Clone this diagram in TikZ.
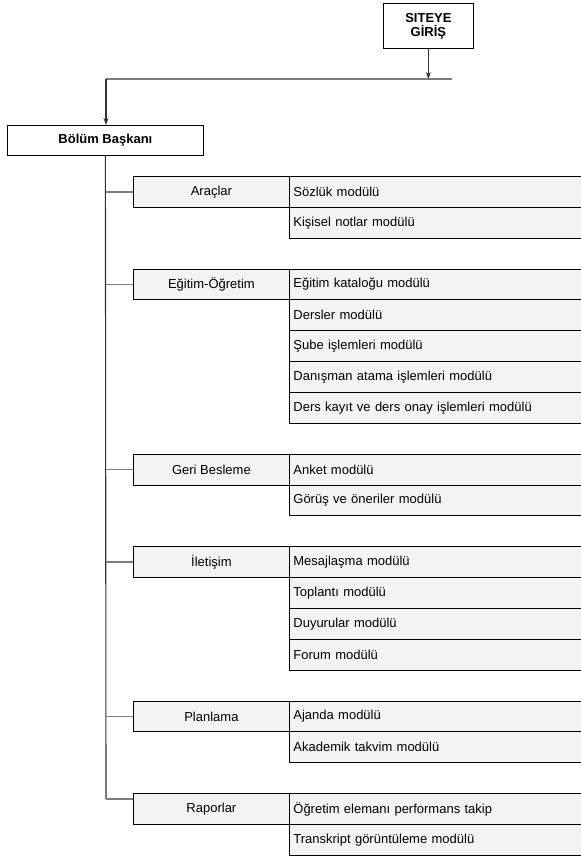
\documentclass[tikz,border=0pt]{standalone}
\usepackage{fontspec}
\setmainfont{Liberation Sans}
\usetikzlibrary{arrows.meta}
\definecolor{boxfill}{RGB}{243,243,243}
\definecolor{grayline}{RGB}{125,125,125}
\definecolor{darkline}{RGB}{50,50,50}
\begin{document}
\begin{tikzpicture}[x=1pt,y=-1pt,
  txt/.style={font=\fontsize{13}{14}\selectfont},
  cat/.style={txt, draw=black, fill=boxfill, line width=0.8pt, minimum width=156pt,
    minimum height=30.86pt, inner sep=0pt, anchor=north west},
  mod/.style={txt, draw=black, fill=boxfill, line width=0.8pt, minimum height=30.86pt,
    text width=293pt, inner xsep=4pt, inner ysep=0pt, align=left, anchor=north west},
  head/.style={draw=black, fill=white, line width=0.8pt, inner sep=0pt, align=center,
    font=\bfseries\fontsize{13}{14}\selectfont, anchor=north west},
  trunk/.style={draw=darkline, line width=1.1pt},
  branch/.style={draw=grayline, line width=1.6pt},
  arr/.style={draw=darkline, line width=1.1pt, -{Stealth[length=7pt,width=5pt]}}]
\useasboundingbox (0,0) rectangle (581,857);
\clip (0,0) rectangle (581,857);

% head boxes
\node[head, minimum width=90pt, minimum height=45pt] (site) at (383,3) {SITEYE\\GİRİŞ};
\node[head, minimum width=196pt, minimum height=30pt] (bb) at (7,125) {Bölüm Başkanı};

% top connectors
\coordinate (hl) at (106,79);
\coordinate (hr) at (452,79);
\draw[branch] (hl) -- (hr);
\draw[arr] (site.south) -- (site.south |- hr);
\draw[arr] (hl) -- (hl |- bb.north);

% rows
\def\rr{30.86}
\newcommand{\rowtop}[1]{176+#1*\rr}

\node[cat] (c1) at (133,{\rowtop{0}}) {Araçlar};
\node[mod] (m11) at (289,{\rowtop{0}}) {Sözlük modülü};
\node[mod] (m12) at (289,{\rowtop{1}}) {Kişisel notlar modülü};

\node[cat] (c2) at (133,{\rowtop{3}}) {Eğitim-Öğretim};
\node[mod] (m21) at (289,{\rowtop{3}}) {Eğitim kataloğu modülü};
\node[mod] (m22) at (289,{\rowtop{4}}) {Dersler modülü};
\node[mod] (m23) at (289,{\rowtop{5}}) {Şube işlemleri modülü};
\node[mod] (m24) at (289,{\rowtop{6}}) {Danışman atama işlemleri modülü};
\node[mod] (m25) at (289,{\rowtop{7}}) {Ders kayıt ve ders onay işlemleri modülü};

\node[cat] (c3) at (133,{\rowtop{9}}) {Geri Besleme};
\node[mod] (m31) at (289,{\rowtop{9}}) {Anket modülü};
\node[mod] (m32) at (289,{\rowtop{10}}) {Görüş ve öneriler modülü};

\node[cat] (c4) at (133,{\rowtop{12}}) {İletişim};
\node[mod] (m41) at (289,{\rowtop{12}}) {Mesajlaşma modülü};
\node[mod] (m42) at (289,{\rowtop{13}}) {Toplantı modülü};
\node[mod] (m43) at (289,{\rowtop{14}}) {Duyurular modülü};
\node[mod] (m44) at (289,{\rowtop{15}}) {Forum modülü};

\node[cat] (c5) at (133,{\rowtop{17}}) {Planlama};
\node[mod] (m51) at (289,{\rowtop{17}}) {Ajanda modülü};
\node[mod] (m52) at (289,{\rowtop{18}}) {Akademik takvim modülü};

\node[cat] (c6) at (133,{\rowtop{20}}) {Raporlar};
\node[mod] (m61) at (289,{\rowtop{20}}) {Öğretim elemanı performans takip};
\node[mod] (m62) at (289,{\rowtop{21}}) {Transkript görüntüleme modülü};

% trunk and branches
\coordinate (rj) at (133,799);
\coordinate (tb) at (106,799);
\draw[trunk] (bb.south) -- (tb);
\foreach \c in {c1,c2,c3,c4,c5}{
  \draw[branch] (tb |- \c.west) -- (\c.west);
}
\draw[branch] (tb) -- (rj);
\end{tikzpicture}
\end{document}
